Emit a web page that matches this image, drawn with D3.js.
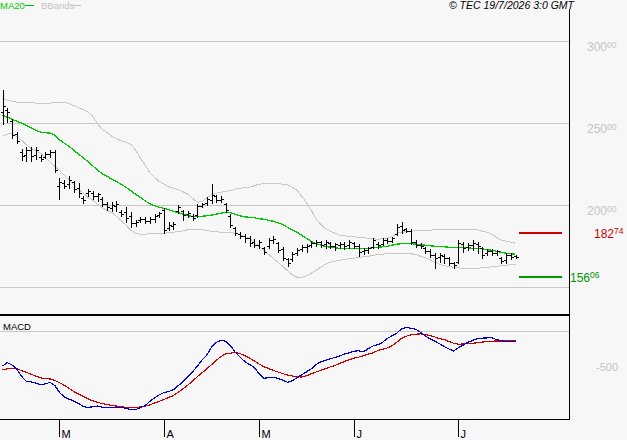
<!DOCTYPE html>
<html><head><meta charset="utf-8">
<script src="https://cdn.jsdelivr.net/npm/d3@7"></script>
<style>html,body{margin:0;padding:0;background:#f7f7f7;} svg{display:block;}</style>
</head><body><svg id="c" width="627" height="440"></svg>
<script>
// ---- data ----
const openP = [
256.3,257.5,250.8,242.9,231.9,230.1,233.1,230.1,228.8,228.8,
230.7,231.9,211.1,213.0,212.4,213.6,209.9,203.8,206.9,206.9,
205.0,203.2,200.2,197.7,198.9,195.3,195.3,192.8,188.6,190.4,
191.0,189.8,191.0,193.5,196.5,185.5,186.7,195.9,195.9,194.1,
192.8,193.5,198.9,200.8,202.6,205.0,202.6,200.2,192.8,185.5,
181.9,180.6,179.4,177.0,175.2,173.3,174.5,178.2,176.4,172.7,
166.6,166.6,170.3,172.7,173.9,175.2,176.4,177.0,175.8,176.4,
174.5,175.2,175.8,175.2,176.4,174.5,171.5,172.1,173.9,175.8,
175.8,178.2,177.6,181.9,186.7,184.9,183.7,177.0,175.2,173.3,
171.5,169.1,167.8,168.4,167.2,164.2,164.8,175.8,173.9,175.2,
175.8,173.3,170.3,171.5,170.3,167.2,166.0,169.1,168.4];
const highP = [
269.7,258.7,252.0,244.1,233.7,234.9,234.9,234.9,230.1,231.9,
233.1,233.1,216.0,214.8,217.2,214.2,213.0,205.0,209.3,208.1,
206.9,204.4,201.4,201.4,202.0,196.5,198.3,195.3,190.4,192.2,
192.2,192.2,194.1,195.3,197.7,189.2,189.2,199.6,196.5,195.9,
194.1,200.2,200.8,204.4,212.4,205.7,205.0,200.8,194.1,186.1,
183.1,181.9,180.6,178.8,178.2,173.9,179.4,180.6,177.0,173.9,
167.2,170.9,173.3,175.2,175.8,177.6,178.2,177.6,178.2,177.0,
176.4,177.0,177.0,178.2,177.0,175.8,173.3,173.9,179.4,177.0,
179.4,179.4,180.0,188.0,189.2,185.5,184.9,178.2,176.4,173.9,
172.7,170.3,170.3,169.7,167.8,164.8,178.2,177.0,176.4,178.2,
177.0,173.9,172.7,172.7,172.1,167.8,170.3,170.3,169.1];
const lowP = [
249.0,250.2,240.4,237.4,227.0,226.4,226.4,227.6,226.4,228.2,
228.8,219.7,203.2,209.9,209.9,207.5,204.4,200.8,205.0,203.2,
202.0,198.9,196.5,195.9,195.9,192.8,189.2,186.1,186.7,189.2,
188.6,188.6,189.2,192.2,182.5,184.3,184.9,194.7,190.4,192.2,
190.4,192.2,198.3,199.6,200.8,201.4,201.4,195.3,186.1,181.2,
179.4,177.0,174.5,173.9,173.3,169.7,173.3,176.4,170.9,166.0,
162.3,165.4,169.1,171.5,170.9,173.9,174.5,173.9,173.3,173.3,
172.1,173.3,172.7,173.3,173.3,168.4,169.7,170.3,173.3,173.3,
175.2,176.4,177.0,181.2,182.5,183.1,175.8,173.9,173.3,170.3,
167.8,161.1,164.8,164.2,163.0,161.1,164.2,170.9,172.1,172.1,
170.3,167.2,169.1,169.1,169.1,164.2,164.2,166.6,167.2];
const closeP = [
259.9,256.3,242.3,238.6,229.4,233.1,229.4,233.1,227.6,230.7,
231.9,220.9,213.6,211.1,214.8,209.3,206.9,202.6,208.1,205.0,
206.3,200.2,198.3,199.6,200.2,194.1,191.6,188.6,189.2,191.0,
189.8,191.0,192.8,194.7,184.3,187.4,188.0,198.3,193.5,194.7,
191.6,198.9,200.2,203.2,205.7,202.6,203.2,196.5,187.4,182.5,
180.6,179.4,176.4,175.2,177.0,170.9,178.2,178.8,172.1,167.2,
164.2,169.7,172.1,173.9,174.5,176.4,177.0,175.2,177.0,174.5,
175.8,175.8,174.5,177.0,174.5,170.9,172.1,173.3,178.2,175.2,
178.2,177.6,179.4,186.1,184.3,183.7,177.0,175.2,174.5,171.5,
169.1,167.2,169.1,167.2,164.2,163.0,176.4,173.3,175.2,176.4,
174.5,169.1,171.5,170.3,171.5,165.4,169.1,167.8,167.8];
const ma20 = [
254.5,253.2,252.0,250.8,249.6,248.4,246.8,245.3,244.1,243.8,
243.5,242.3,239.5,237.4,235.5,233.1,230.7,228.5,226.1,223.6,
220.9,218.8,217.2,215.4,213.9,212.4,210.5,208.4,206.3,204.4,
202.3,200.5,199.2,198.3,197.7,196.8,195.9,195.0,194.1,193.1,
192.8,192.8,192.8,193.1,193.5,194.1,194.7,195.3,195.0,194.1,
193.1,192.5,192.2,191.9,191.3,191.0,190.4,189.8,188.9,187.7,
186.1,184.6,183.1,181.2,179.4,177.6,176.1,175.2,174.5,173.9,
173.6,173.3,173.3,173.3,173.3,173.3,173.3,173.3,173.6,173.9,
174.2,174.5,175.2,175.8,176.1,176.4,176.1,175.8,175.5,175.2,
174.9,174.5,174.5,174.2,173.9,173.9,173.9,173.6,173.6,173.3,
173.3,173.0,172.4,172.1,171.5,170.9,170.3,170.0,169.7];
const bbUpper = [
264.8,263.6,263.0,262.4,262.4,262.4,262.4,261.8,261.8,261.8,
261.8,262.1,262.4,262.4,261.5,260.3,259.0,257.8,256.3,253.8,
249.3,245.9,243.8,241.6,240.1,238.9,238.0,236.8,233.1,228.5,
224.0,219.4,216.6,213.9,212.4,210.8,209.9,209.0,207.8,206.3,
203.8,201.4,201.7,204.1,206.0,206.9,207.5,208.1,208.4,209.3,
209.9,210.2,210.5,211.4,212.4,212.7,213.0,213.0,212.7,212.4,
212.1,210.5,208.7,205.0,201.1,196.5,191.3,188.0,185.2,183.7,
182.5,181.2,180.9,180.6,180.3,180.0,179.7,179.4,179.1,178.8,
179.1,179.4,180.3,182.5,183.1,183.4,183.7,184.0,184.3,184.3,
184.3,184.6,184.6,184.6,184.9,184.9,184.9,184.9,184.9,184.9,
184.6,183.7,183.1,181.9,180.0,178.2,177.6,177.0,176.4];
const bbLower = [
241.6,242.9,243.5,241.6,239.2,236.5,234.3,232.8,231.3,228.8,
225.8,223.3,220.6,217.9,214.8,212.1,209.3,206.9,204.4,202.6,
200.2,198.0,196.5,195.0,192.8,190.1,187.4,184.3,182.5,181.9,
181.9,182.2,182.5,182.5,182.5,182.8,183.1,183.4,184.0,184.6,
184.9,184.9,184.6,184.3,183.7,183.4,183.1,183.1,182.8,182.5,
181.6,180.3,179.4,177.0,174.5,172.1,169.7,167.2,164.8,162.3,
159.6,157.2,155.6,155.6,156.5,158.1,159.9,161.7,163.6,164.8,
165.4,166.0,166.6,166.9,167.2,167.8,168.1,168.4,169.1,169.4,
169.7,170.0,170.3,170.3,170.3,170.3,170.0,169.4,168.4,167.5,
166.3,164.8,163.6,162.7,162.1,161.7,161.4,161.1,161.1,161.1,
161.1,161.4,161.7,162.0,162.3,162.7,163.0,163.3,163.6];
const macdLine = [
-563,-511,-547,-614,-727,-805,-817,-836,-859,-847,
-823,-872,-984,-1055,-1089,-1120,-1156,-1208,-1223,-1209,
-1200,-1219,-1223,-1223,-1219,-1217,-1238,-1253,-1255,-1227,
-1195,-1125,-1070,-1023,-984,-969,-938,-875,-813,-734,
-656,-570,-469,-391,-266,-188,-156,-172,-242,-344,
-422,-492,-539,-586,-688,-758,-750,-739,-761,-789,
-820,-800,-750,-703,-656,-609,-539,-500,-473,-450,
-427,-402,-375,-352,-328,-322,-338,-289,-245,-227,
-188,-125,-86,-42,27,47,36,19,-27,-86,
-130,-167,-211,-255,-294,-325,-273,-231,-188,-156,
-128,-122,-117,-114,-144,-161,-172,-172,-172];
const signalLine = [
-622,-609,-600,-609,-636,-664,-694,-722,-750,-766,
-769,-792,-828,-869,-919,-969,-1008,-1047,-1084,-1117,
-1139,-1161,-1175,-1188,-1200,-1211,-1219,-1222,-1222,-1213,
-1202,-1180,-1153,-1125,-1094,-1063,-1031,-980,-925,-867,
-805,-734,-672,-609,-542,-473,-414,-370,-359,-350,
-367,-398,-438,-484,-531,-573,-603,-633,-659,-684,
-708,-723,-734,-738,-719,-688,-659,-633,-605,-578,
-555,-523,-492,-464,-438,-422,-398,-375,-355,-320,
-297,-277,-242,-188,-125,-91,-70,-59,-53,-63,
-81,-102,-130,-145,-175,-203,-219,-213,-209,-203,
-194,-184,-177,-170,-167,-167,-167,-167,-167];
const monthTickIdx = [12, 34, 54, 74, 96];
const monthLabels = ["M", "A", "M", "J", "J"];
const priceGrid = [150, 200, 250, 300];
const priceLabels = [200, 250, 300];
const macdGrid = [0];
const macdLabels = [-500];
const resistance = 182.74, support = 156.06;
const headerText = "© TEC 19/7/2026 3:0 GMT";

// ---- drawing ----
const svg = d3.select("#c");
const W = 627, H = 440, plotR = 569;
const n = closeP.length;
const x = d3.scaleLinear().domain([0, n - 1]).range([2.5, 515.5]);
const y = d3.scaleLinear().domain([150, 300]).range([286.5, 40.5]);
const ym = d3.scaleLinear().domain([-500, 0]).range([362, 330.5]);
const GRID = "#c8c8c8", LBL = "#c4c4c4";

svg.append("rect").attr("width", W).attr("height", H).attr("fill", "#f7f7f7");

const g = svg.append("g").attr("shape-rendering", "crispEdges");
// grid lines
g.selectAll(".pg").data(priceGrid).join("line")
  .attr("x1", 0).attr("x2", plotR).attr("y1", d => Math.round(y(d)) + 0.5).attr("y2", d => Math.round(y(d)) + 0.5)
  .attr("stroke", GRID);
g.selectAll(".mg").data(macdGrid).join("line")
  .attr("x1", 0).attr("x2", plotR).attr("y1", d => Math.round(ym(d)) + 0.5).attr("y2", d => Math.round(ym(d)) + 0.5)
  .attr("stroke", GRID);

// price axis labels
function splitNum(v) {
  const s = v.toFixed(2).split(".");
  return s;
}
const pl = svg.append("g").attr("font-family", "Liberation Sans, Arial, sans-serif").attr("fill", LBL);
priceLabels.forEach(v => {
  const p = splitNum(v);
  const t = pl.append("text").attr("x", 587).attr("y", Math.round(y(v)) + 10).attr("font-size", 12);
  t.append("tspan").text(p[0]);
  t.append("tspan").attr("font-size", 8.5).attr("dy", -3.5).text(p[1]);
});
macdLabels.forEach(v => {
  pl.append("text").attr("x", 596).attr("y", ym(v) + 9).attr("font-size", 11).text(String(v));
});

// Bollinger bands
const line = (arr, sc) => d3.line().x((d, i) => x(i)).y(d => sc(d))(arr);
const curves = svg.append("g").attr("fill", "none").attr("shape-rendering", "crispEdges");
curves.append("path").attr("d", line(bbUpper, y)).attr("stroke", GRID).attr("stroke-width", 1);
curves.append("path").attr("d", line(bbLower, y)).attr("stroke", GRID).attr("stroke-width", 1);
curves.append("path").attr("d", line(ma20, y)).attr("stroke", "#00c800").attr("stroke-width", 1.3);

// OHLC bars
const bars = svg.append("g").attr("stroke", "#000").attr("shape-rendering", "crispEdges");
d3.range(n).forEach(i => {
  const cx = Math.round(x(i)) + 0.5;
  const hy = Math.round(y(highP[i])), ly = Math.round(y(lowP[i]));
  bars.append("line").attr("x1", cx).attr("x2", cx).attr("y1", hy).attr("y2", ly + 1);
  const oy = Math.round(y(openP[i])) + 0.5, cy = Math.round(y(closeP[i])) + 0.5;
  bars.append("line").attr("x1", cx - 2.5).attr("x2", cx).attr("y1", oy).attr("y2", oy);
  bars.append("line").attr("x1", cx).attr("x2", cx + 2.5).attr("y1", cy).attr("y2", cy);
});

// resistance / support
const lv = svg.append("g").attr("shape-rendering", "crispEdges");
lv.append("line").attr("x1", 519).attr("x2", 562).attr("y1", y(resistance)).attr("y2", y(resistance))
  .attr("stroke", "#cc0000").attr("stroke-width", 2);
lv.append("line").attr("x1", 519).attr("x2", 562).attr("y1", y(support)).attr("y2", y(support))
  .attr("stroke", "#009600").attr("stroke-width", 2);
[[resistance, "#cc0000", 594], [support, "#009600", 570]].forEach(([v, c, tx]) => {
  const p = splitNum(v);
  const t = svg.append("text").attr("x", tx).attr("y", y(v) + 5).attr("font-size", 12)
    .attr("font-family", "Liberation Sans, Arial, sans-serif").attr("fill", c);
  t.append("tspan").text(p[0]);
  t.append("tspan").attr("font-size", 8.5).attr("dy", -3.5).text(p[1]);
});

// MACD lines
curves.append("path").attr("d", line(signalLine, ym)).attr("stroke", "#cc0000").attr("stroke-width", 1.2);
curves.append("path").attr("d", line(macdLine, ym)).attr("stroke", "#0000cc").attr("stroke-width", 1.2);
svg.append("text").attr("x", 3).attr("y", 330).attr("font-size", 9.5)
  .attr("font-family", "Liberation Sans, Arial, sans-serif").attr("fill", "#000").text("MACD");

// frame
const fr = svg.append("g").attr("shape-rendering", "crispEdges").attr("stroke", "#000");
fr.append("line").attr("x1", plotR + 0.5).attr("x2", plotR + 0.5).attr("y1", 9).attr("y2", 420);
fr.append("line").attr("x1", 0).attr("x2", plotR + 1).attr("y1", 315).attr("y2", 315).attr("stroke-width", 2);
fr.append("line").attr("x1", 0).attr("x2", plotR + 1).attr("y1", 419.5).attr("y2", 419.5);

// month ticks
monthTickIdx.forEach((idx, k) => {
  const tx = Math.round(x(idx)) + 0.5;
  fr.append("line").attr("x1", tx).attr("x2", tx).attr("y1", 419).attr("y2", 437);
  svg.append("text").attr("x", tx + 2).attr("y", 438).attr("font-size", 11)
    .attr("font-family", "Liberation Sans, Arial, sans-serif").attr("fill", "#000").text(monthLabels[k]);
});

// header legend
const hd = svg.append("g").attr("font-family", "Liberation Sans, Arial, sans-serif").attr("font-size", 9.5);
hd.append("text").attr("x", 0).attr("y", 9).attr("fill", "#00c800").text("MA20");
hd.append("line").attr("x1", 25).attr("x2", 34).attr("y1", 5.5).attr("y2", 5.5).attr("stroke", "#00c800").attr("shape-rendering", "crispEdges");
hd.append("text").attr("x", 41).attr("y", 9).attr("fill", LBL).text("BBands");
hd.append("line").attr("x1", 73).attr("x2", 81).attr("y1", 5.5).attr("y2", 5.5).attr("stroke", LBL).attr("shape-rendering", "crispEdges");
hd.append("text").attr("x", 574).attr("y", 9).attr("text-anchor", "end").attr("font-style", "italic")
  .attr("font-size", 10.5).attr("fill", "#000").text(headerText);
</script>
</body></html>
